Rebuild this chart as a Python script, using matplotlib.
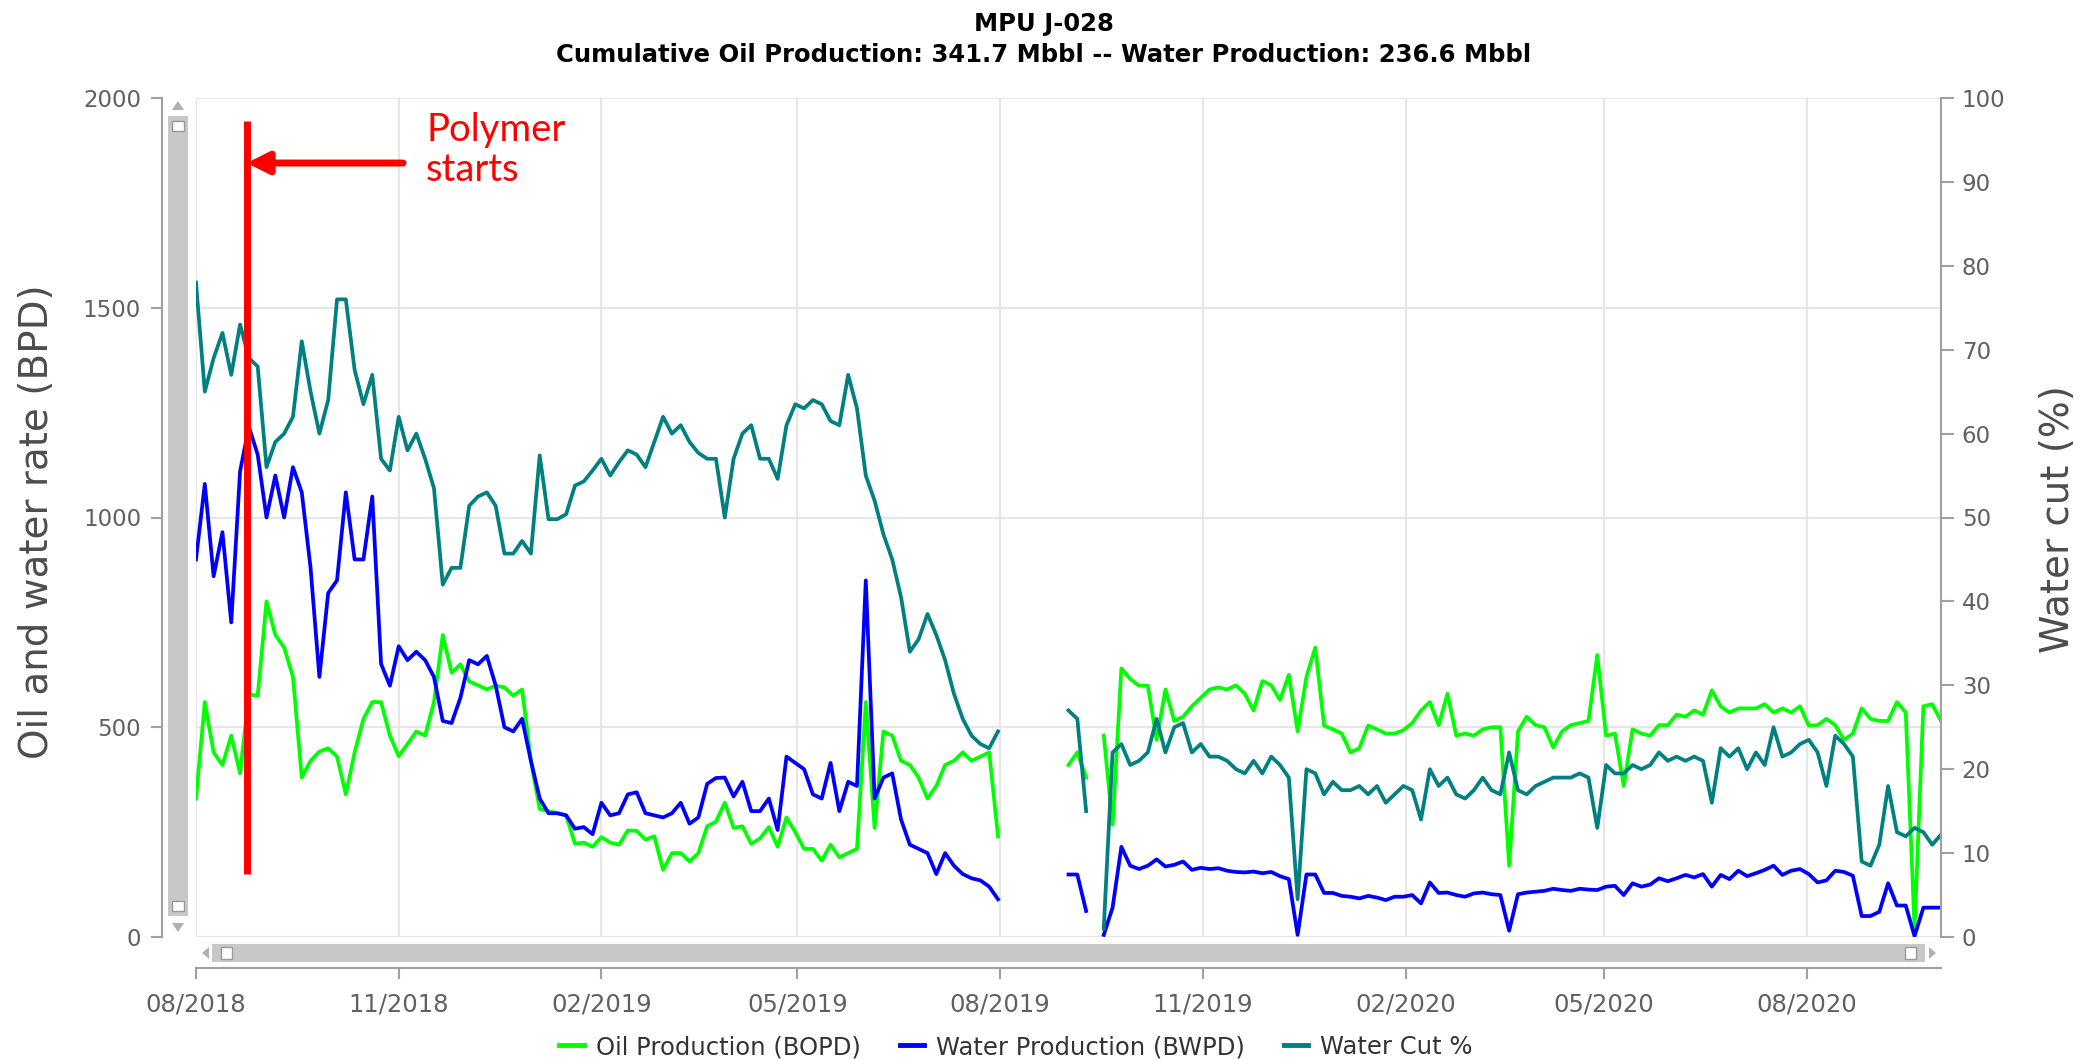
import matplotlib
matplotlib.use("Agg")
import matplotlib.pyplot as plt
import matplotlib.dates as mdates
from matplotlib.patches import Rectangle, Polygon
from matplotlib.lines import Line2D
import numpy as np
import pandas as pd

nan = np.nan

# daily production, every 4 days from 08/01/2018
start_date = "2018-08-01"
step_days = 4

oil_bopd = [
    330, 560, 440, 410, 480, 390, 578, 575, 800, 720,
    690, 620, 380, 420, 442, 450, 430, 340, 440, 520,
    560, 560, 480, 431, 460, 490, 480, 560, 720, 630,
    650, 609, 600, 590, 599, 595, 575, 590, 420, 305,
    300, 295, 290, 222, 225, 215, 238, 225, 220, 254,
    253, 232, 240, 160, 200, 200, 180, 200, 264, 275,
    320, 260, 264, 222, 235, 262, 215, 285, 250, 210,
    210, 182, 220, 190, 200, 210, 560, 260, 490, 480,
    420, 410, 380, 330, 360, 410, 420, 440, 420, 430,
    440, 240,
    nan, nan, nan, nan, nan, nan, nan,
    410, 440, 380, nan, 480, 268, 640, 615, 599, 599,
    470, 590, 515, 525, 550, 570, 590, 595, 590, 600,
    580, 540, 610, 600, 565, 625, 490, 620, 690, 504,
    495, 485, 440, 450, 504, 495, 485, 485, 493, 510,
    540, 560, 505, 580, 480, 485, 480, 495, 500,
    500, 170, 490, 525, 505, 500, 452, 490, 505, 510,
    515, 672, 480, 485, 360, 495, 485, 480, 505, 505,
    530, 525, 540, 530, 588, 550, 535, 545, 545, 545,
    555, 535, 545, 535, 550, 504, 505, 520, 505, 470,
    485, 545, 520, 515, 515, 560, 535, 20, 550, 555,
    515,
]

water_bwpd = [
    900, 1080, 860, 965, 750, 1110, 1216, 1150, 1000, 1100,
    1000, 1120, 1060, 880, 620, 820, 850, 1060, 900, 900,
    1050, 651, 599, 693, 660, 680, 660, 620, 515, 510,
    570, 660, 650, 670, 600, 500, 490, 520, 420, 330,
    295, 295, 290, 258, 262, 245, 320, 290, 295, 340,
    345, 295, 290, 285, 295, 320, 270, 285, 365, 379,
    380, 335, 370, 300, 300, 330, 255, 430, 415, 400,
    340, 330, 415, 300, 370, 360, 850, 330, 380, 390,
    280, 220, 210, 200, 150, 200, 170, 150, 140, 135,
    120, 90,
    nan, nan, nan, nan, nan, nan, nan,
    149, 149, 62, nan, 5, 70, 215, 170, 162, 170,
    185, 168, 172, 180, 160, 165, 162, 164, 158, 155,
    154, 156, 152, 155, 145, 138, 5, 149, 149, 105,
    105, 98, 96, 92, 98, 94, 88, 96, 96, 100,
    80, 130, 105, 106, 100, 96, 104, 106, 102,
    100, 15, 102, 106, 108, 110, 115, 112, 110, 115,
    113, 112, 120, 122, 100, 128, 120, 125, 140, 133,
    140, 148, 142, 150, 120, 148, 138, 158, 145, 152,
    160, 170, 148, 158, 162, 150, 130, 135, 158, 155,
    146, 50, 50, 60, 128, 75, 75, 2, 70, 70,
    70,
]

water_cut = [
    78, 65, 69, 72, 67, 73, 69, 68, 56, 59,
    60, 62, 71, 65, 60, 64, 76, 76, 67.6, 63.5,
    67, 57, 55.6, 62, 58, 60, 57, 53.5, 42, 44,
    44, 51.4, 52.5, 53, 51.4, 45.7, 45.7, 47.2, 45.7, 57.4,
    49.8, 49.8, 50.4, 53.8, 54.3, 55.6, 57, 55, 56.6, 58,
    57.5, 56, 59, 62, 60, 61, 59, 57.7, 57, 57,
    50, 57, 60, 61, 57, 57, 54.6, 61, 63.5, 63,
    64, 63.5, 61.5, 61, 67, 63, 55, 52, 48, 45,
    40.5, 34, 35.5, 38.5, 36, 33, 29, 26, 24, 23,
    22.5, 24.5,
    nan, nan, nan, nan, nan, nan, nan,
    27, 26, 15, nan, 1, 22, 23, 20.5, 21, 22,
    26, 22, 25, 25.5, 22, 23, 21.5, 21.5, 21, 20,
    19.5, 21, 19.5, 21.5, 20.5, 19, 4.5, 20, 19.5, 17,
    18.5, 17.5, 17.5, 18, 17, 18, 16, 17, 18, 17.5,
    14, 20, 18, 19, 17, 16.5, 17.5, 19, 17.5,
    17, 22, 17.5, 17, 18, 18.5, 19, 19, 19, 19.5,
    19, 13, 20.5, 19.5, 19.5, 20.5, 20, 20.5, 22, 21,
    21.5, 21, 21.5, 21, 16, 22.5, 21.5, 22.5, 20, 22,
    20.5, 25, 21.5, 22, 23, 23.5, 22, 18, 24, 23,
    21.5, 9, 8.5, 11, 18, 12.5, 12, 13, 12.5, 11,
    12.2,
]

dates = pd.date_range(start_date, periods=len(oil_bopd), freq=f"{step_days}D")

# annotation
polymer_date = mdates.date2num(pd.Timestamp("2018-08-24"))
polymer_span = (150, 1945)
arrow_from = mdates.date2num(pd.Timestamp("2018-11-03"))
arrow_level = 1845

W, H = 2081, 1060


def fx(x):
    return x / W


def fy(y):
    return 1 - y / H


fig = plt.figure(figsize=(W / 100, H / 100), dpi=100)
ax = fig.add_axes([fx(196), fy(937), fx(1941) - fx(196), fy(98) - fy(937)])
ax2 = ax.twinx()

oil_color = "#00ff00"
water_color = "#0000ff"
cut_color = "#008080"
axis_gray = "#a0a0a0"
label_gray = "#606060"

ax.plot(dates, oil_bopd, color=oil_color, lw=2.7)
ax.plot(dates, water_bwpd, color=water_color, lw=2.7)
ax2.plot(dates, water_cut, color=cut_color, lw=2.7)

ax.set_xlim(pd.Timestamp("2018-08-01"), pd.Timestamp("2020-10-01"))
ax.set_ylim(0, 2000)
ax2.set_ylim(0, 100)
ax.set_yticks(np.arange(0, 2001, 500))
ax2.set_yticks(np.arange(0, 101, 10))
ax.xaxis.set_major_locator(mdates.MonthLocator(bymonth=[2, 5, 8, 11]))
ax.xaxis.set_major_formatter(mdates.DateFormatter("%m/%Y"))

ax.grid(True, color="#e6e6e6", lw=1.5)
ax.set_axisbelow(True)

for s in ["top", "right"]:
    ax.spines[s].set_visible(False)
for s in ["top", "left", "bottom"]:
    ax2.spines[s].set_visible(False)
ax.spines["left"].set_position(("outward", 24.5))
ax.spines["bottom"].set_position(("outward", 22.3))
for sp in [ax.spines["left"], ax.spines["bottom"], ax2.spines["right"]]:
    sp.set_color(axis_gray)
    sp.set_linewidth(1.5)

ax.tick_params(axis="y", length=8, width=1.5, color=axis_gray, pad=7,
               labelsize=16.5, labelcolor=label_gray)
ax.tick_params(axis="x", length=8, width=1.5, color=axis_gray, pad=10,
               labelsize=17.5, labelcolor=label_gray)
ax2.tick_params(axis="y", length=9, width=1.5, color=axis_gray, pad=6,
                labelsize=16.5, labelcolor=label_gray)

# polymer start marker, drawn on top of all series
ax2.add_line(Line2D([polymer_date, polymer_date], polymer_span, color="red", lw=5,
                    transform=ax.transData, zorder=10, solid_capstyle="butt"))
ax2.annotate("", xy=(polymer_date, arrow_level), xycoords=ax.transData,
             xytext=(arrow_from, arrow_level), textcoords=ax.transData,
             arrowprops=dict(arrowstyle="-|>", color="red", lw=5,
                             mutation_scale=32, shrinkA=0, shrinkB=0),
             zorder=10)
fig.text(fx(426), fy(112), "Polymer\nstarts", color="red", fontsize=27.5,
         family="Lato", va="top", ha="left", linespacing=1.15)

# titles and axis labels
fig.text(fx(1044), fy(23.5), "MPU J-028", ha="center", va="center",
         fontsize=17.5, fontweight="bold")
fig.text(fx(1044), fy(55.5),
         "Cumulative Oil Production: 341.7 Mbbl -- Water Production: 236.6 Mbbl",
         ha="center", va="center", fontsize=17.5, fontweight="bold")
fig.text(fx(37), fy(522), "Oil and water rate (BPD)", rotation=90,
         ha="center", va="center", fontsize=28, color="#4d4d4d")
fig.text(fx(2058), fy(519), "Water cut (%)", rotation=90,
         ha="center", va="center", fontsize=28, color="#4d4d4d")

# scrollbars like the web chart
bar_gray = "#c8c8c8"
fig.add_artist(Rectangle((fx(168), fy(916)), fx(188) - fx(168), fy(116) - fy(916),
                         transform=fig.transFigure, color=bar_gray, lw=0))
fig.add_artist(Rectangle((fx(212), fy(962)), fx(1925) - fx(212), fy(944) - fy(962),
                         transform=fig.transFigure, color=bar_gray, lw=0))
for x0, y0, x1, y1 in [(172, 121, 184, 131), (172, 901, 184, 911),
                       (221, 947, 232, 959), (1905, 947, 1916, 959)]:
    fig.add_artist(Rectangle((fx(x0), fy(y1)), fx(x1) - fx(x0), fy(y0) - fy(y1),
                             transform=fig.transFigure, facecolor="white",
                             edgecolor="#999999", lw=1))
arrow_gray = "#b0b0b0"
for pts in [[(172, 110), (184, 110), (178, 101)],
            [(172, 923), (184, 923), (178, 932)],
            [(209, 947), (209, 959), (202, 953)],
            [(1929, 947), (1929, 959), (1936, 953)]]:
    fig.add_artist(Polygon([(fx(a), fy(b)) for a, b in pts], closed=True,
                           transform=fig.transFigure, color=arrow_gray, lw=0))

handles = [Line2D([], [], color=oil_color, lw=3.5),
           Line2D([], [], color=water_color, lw=3.5),
           Line2D([], [], color=cut_color, lw=3.5)]
fig.legend(handles, ["Oil Production (BOPD)", "Water Production (BWPD)", "Water Cut %"],
           loc="center", bbox_to_anchor=(fx(1016), fy(1047)), ncol=3, frameon=False,
           fontsize=17.5, handlelength=1.0, handletextpad=0.5, columnspacing=1.6,
           labelcolor="#333333")

fig.savefig("out.png", dpi=100)
